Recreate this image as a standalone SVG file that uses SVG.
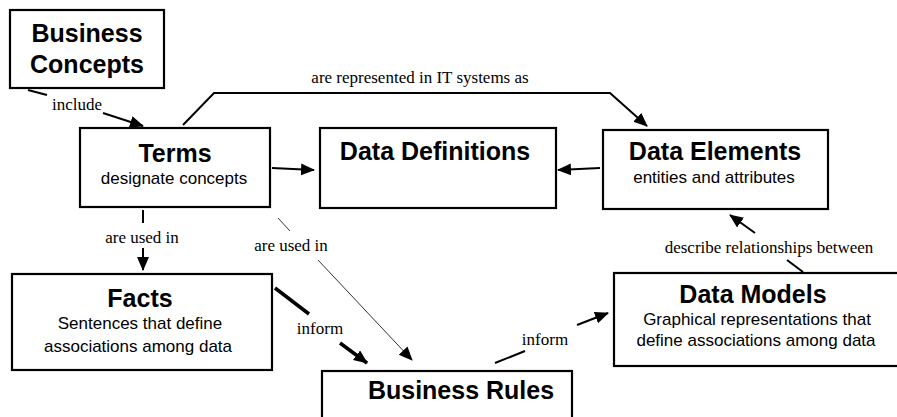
<svg xmlns="http://www.w3.org/2000/svg" width="897" height="417" viewBox="0 0 897 417">
<style>
.box{fill:#fff;stroke:#000;stroke-width:2.2}
.t{font-family:"Liberation Sans",Arial,sans-serif;font-weight:bold;font-size:25px;text-anchor:middle;fill:#000}
.s{font-family:"Liberation Sans",Arial,sans-serif;font-size:17px;text-anchor:middle;fill:#000}
.l{font-family:"Liberation Serif","Times New Roman",serif;font-size:17px;text-anchor:middle;fill:#000}
.c{fill:none;stroke:#000;stroke-width:2}
.thin{fill:none;stroke:#000;stroke-width:0.8}
.thick{fill:none;stroke:#000;stroke-width:3.5}
</style>
<defs>
<marker id="ah" markerUnits="userSpaceOnUse" markerWidth="16" markerHeight="14" refX="13" refY="6" orient="auto">
<path d="M0,0 L14,6 L0,12 z" fill="#000"/>
</marker>
</defs>
<g id="business-concepts">
<rect class="box" x="10" y="10" width="154" height="78"/>
<text class="t" x="87" y="42">Business</text>
<text class="t" x="87" y="73">Concepts</text>
</g>
<g id="terms">
<rect class="box" x="80" y="128" width="190" height="79"/>
<text class="t" x="175" y="162">Terms</text>
<text class="s" x="174" y="184">designate concepts</text>
</g>
<g id="data-definitions">
<rect class="box" x="320" y="128" width="236" height="80"/>
<text class="t" x="435" y="160">Data Definitions</text>
</g>
<g id="data-elements">
<rect class="box" x="603" y="130" width="225" height="79"/>
<text class="t" x="715" y="160">Data Elements</text>
<text class="s" x="714" y="183">entities and attributes</text>
</g>
<g id="facts">
<rect class="box" x="12" y="274" width="260" height="96"/>
<text class="t" x="140" y="307">Facts</text>
<text class="s" x="140" y="329">Sentences that define</text>
<text class="s" x="138" y="352">associations among data</text>
</g>
<g id="data-models">
<rect class="box" x="614" y="273" width="290" height="93"/>
<text class="t" x="753" y="303">Data Models</text>
<text class="s" x="757" y="325">Graphical representations that</text>
<text class="s" x="756" y="346">define associations among data</text>
</g>
<g id="business-rules">
<rect class="box" x="322" y="371" width="250" height="60"/>
<text class="t" x="461" y="399">Business Rules</text>
</g>
<g id="connectors">
<line class="c" x1="28" y1="90" x2="47" y2="95"/>
<line class="c" x1="103" y1="113" x2="143" y2="126" marker-end="url(#ah)"/>
<text class="l" x="77" y="110">include</text>
<polyline class="c" points="183,125 214,93 610,93 647,126" marker-end="url(#ah)"/>
<text class="l" x="420" y="83">are represented in IT systems as</text>
<line class="c" x1="272" y1="168" x2="314" y2="170" marker-end="url(#ah)"/>
<line class="c" x1="600" y1="168" x2="558" y2="170" marker-end="url(#ah)"/>
<line class="c" x1="143" y1="210" x2="143" y2="223"/>
<line class="c" x1="143" y1="248" x2="143" y2="270" marker-end="url(#ah)"/>
<text class="l" x="142" y="243">are used in</text>
<line class="thin" x1="278" y1="218" x2="290" y2="231"/>
<line class="thin" x1="318" y1="260" x2="412" y2="360" marker-end="url(#ah)"/>
<text class="l" x="291" y="251">are used in</text>
<line class="thick" x1="275" y1="288" x2="309" y2="314"/>
<line class="thick" x1="340" y1="343" x2="367" y2="363" marker-end="url(#ah)"/>
<text class="l" x="320" y="334">inform</text>
<line class="c" x1="495" y1="363" x2="525" y2="351"/>
<line class="c" x1="577" y1="325" x2="608" y2="313" marker-end="url(#ah)"/>
<text class="l" x="545" y="345">inform</text>
<line class="c" x1="803" y1="272" x2="787" y2="260"/>
<line class="c" x1="755" y1="233" x2="730" y2="215" marker-end="url(#ah)"/>
<text class="l" x="769" y="253">describe relationships between</text>
</g>
</svg>
